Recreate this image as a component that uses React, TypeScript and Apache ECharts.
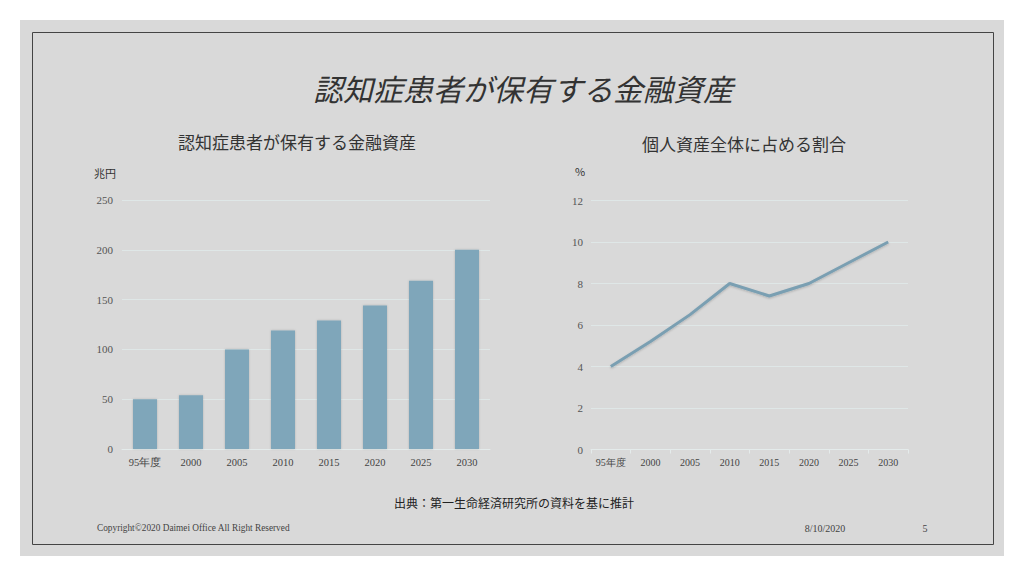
import React, { useEffect, useRef } from "react";
import * as echarts from "echarts";

const categories = ["95年度", "2000", "2005", "2010", "2015", "2020", "2025", "2030"];
const assetValues = [50, 54, 100, 119, 129, 144, 169, 200];
const shareValues = [4.0, 5.2, 6.5, 8.0, 7.4, 8.0, 9.0, 10.0];

const mainTitle = "認知症患者が保有する金融資産";
const leftTitle = "認知症患者が保有する金融資産";
const rightTitle = "個人資産全体に占める割合";
const leftUnit = "兆円";
const rightUnit = "%";
const sourceNote = "出典：第一生命経済研究所の資料を基に推計";
const copyright = "Copyright©2020 Daimei Office All Right Reserved";
const dateText = "8/10/2020";
const pageNo = "5";

const CJK = '"Noto Sans CJK JP", sans-serif';
const SERIF = '"Liberation Serif", "DejaVu Serif", serif';

export default function App() {
  const ref = useRef<HTMLDivElement>(null);
  useEffect(() => {
    if (!ref.current) return;
    const chart = echarts.init(ref.current, null, { renderer: "svg" });
    const axisLabel = { color: "#555", fontFamily: SERIF, fontSize: 11 };
    const xLabel = {
      color: "#444",
      fontSize: 10.5,
      fontFamily: SERIF,
      margin: 8,
      interval: 0,
      hideOverlap: false,
    };
    chart.setOption({
      animation: false,
      backgroundColor: "#ffffff",
      graphic: [
        { type: "rect", shape: { x: 20, y: 20, width: 984, height: 536 }, style: { fill: "#d9d9d9" }, z: -10 },
        { type: "rect", shape: { x: 32.5, y: 32.5, width: 961, height: 512 }, style: { fill: "none", stroke: "#444", lineWidth: 1 }, z: -9 },
        { type: "text", x: 523, y: 88, style: { text: mainTitle, font: `italic 30px ${CJK}`, fill: "#333", textAlign: "center", textVerticalAlign: "middle" } },
        { type: "text", x: 297, y: 141, style: { text: leftTitle, font: `17px ${CJK}`, fill: "#333", textAlign: "center", textVerticalAlign: "middle" } },
        { type: "text", x: 744, y: 143, style: { text: rightTitle, font: `17px ${CJK}`, fill: "#333", textAlign: "center", textVerticalAlign: "middle" } },
        { type: "text", x: 105, y: 173, style: { text: leftUnit, font: `11px ${CJK}`, fill: "#333", textAlign: "center", textVerticalAlign: "middle" } },
        { type: "text", x: 580, y: 171, style: { text: rightUnit, font: `11px ${CJK}`, fill: "#333", textAlign: "center", textVerticalAlign: "middle" } },
        { type: "text", x: 514, y: 502, style: { text: sourceNote, font: `12px ${CJK}`, fill: "#222", textAlign: "center", textVerticalAlign: "middle" } },
        { type: "text", x: 97, y: 528, style: { text: copyright, font: `9.3px ${SERIF}`, fill: "#444", textAlign: "left", textVerticalAlign: "middle" } },
        { type: "text", x: 825, y: 528, style: { text: dateText, font: `10px ${SERIF}`, fill: "#444", textAlign: "center", textVerticalAlign: "middle" } },
        { type: "text", x: 925, y: 528, style: { text: pageNo, font: `10px ${SERIF}`, fill: "#444", textAlign: "center", textVerticalAlign: "middle" } },
      ],
      grid: [
        { left: 122, top: 200, width: 368, height: 249 },
        { left: 591, top: 200.5, width: 317, height: 249 },
      ],
      xAxis: [
        {
          type: "category",
          gridIndex: 0,
          data: categories,
          axisLine: { show: true, lineStyle: { color: "#e4ebeb", width: 1 } },
          axisTick: { show: false },
          axisLabel: xLabel,
        },
        {
          type: "category",
          gridIndex: 1,
          data: categories,
          axisLine: { show: true, lineStyle: { color: "#e4ebeb", width: 1 } },
          axisTick: { show: true, interval: 0, lineStyle: { color: "#e4ebeb" }, length: 4 },
          axisLabel: { ...xLabel, fontSize: 10 },
        },
      ],
      yAxis: [
        {
          type: "value",
          gridIndex: 0,
          min: 0,
          max: 250,
          interval: 50,
          axisLine: { show: false },
          axisTick: { show: false },
          axisLabel: { ...axisLabel, margin: 9 },
          splitLine: { lineStyle: { color: "#dfe7e7", width: 1 } },
        },
        {
          type: "value",
          gridIndex: 1,
          min: 0,
          max: 12,
          interval: 2,
          axisLine: { show: false },
          axisTick: { show: false },
          axisLabel: { ...axisLabel, margin: 8 },
          splitLine: { lineStyle: { color: "#dfe7e7", width: 1 } },
        },
      ],
      series: [
        {
          type: "bar",
          xAxisIndex: 0,
          yAxisIndex: 0,
          data: assetValues,
          barWidth: 24,
          itemStyle: {
            color: "#7fa6ba",
            shadowColor: "rgba(0,0,0,0.18)",
            shadowBlur: 2,
          },
        },
        {
          type: "line",
          xAxisIndex: 1,
          yAxisIndex: 1,
          data: shareValues,
          symbol: "none",
          lineStyle: {
            color: "#7a9fb2",
            width: 3,
            shadowColor: "rgba(0,0,0,0.2)",
            shadowBlur: 2,
            shadowOffsetY: 1,
          },
        },
      ],
    });
    return () => chart.dispose();
  }, []);
  return (
    <div
      ref={ref}
      style={{ position: "fixed", left: 0, top: 0, width: 1024, height: 576 }}
    />
  );
}
